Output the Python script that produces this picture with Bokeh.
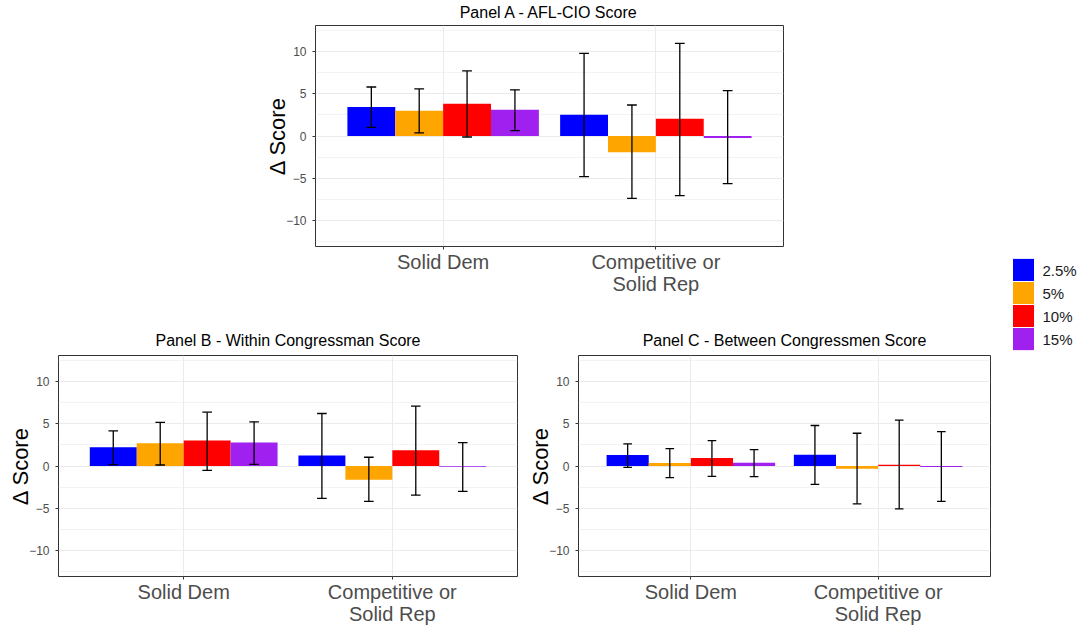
from bokeh.plotting import figure
from bokeh.layouts import row, column
from bokeh.models import FactorRange, Range1d, FixedTicker, Spacer, ColumnDataSource
from bokeh.transform import dodge
from bokeh.core.properties import value
from bokeh.embed import file_html
from bokeh.resources import INLINE

# District types and trimming thresholds
categories = ["Solid Dem", "Competitive or\nSolid Rep"]
thresholds = ["2.5%", "5%", "10%", "15%"]
colors = ["#0000FF", "#FFA500", "#FF0000", "#A020F0"]

# Panel A - AFL-CIO score: estimate and 95% interval per threshold, [Solid Dem, Competitive]
afl_est = [[3.45, 2.54], [3.00, -1.94], [3.85, 2.06], [3.13, -0.25]]
afl_lo = [[1.03, -4.84], [0.36, -7.42], [-0.12, -7.10], [0.63, -5.67]]
afl_hi = [[5.83, 9.84], [5.60, 3.69], [7.74, 11.03], [5.50, 5.40]]

# Panel B - within congressman score
within_est = [[2.23, 1.24], [2.71, -1.63], [3.03, 1.87], [2.79, -0.10]]
within_lo = [[0.16, -3.86], [0.12, -4.22], [-0.52, -3.47], [0.20, -3.03]]
within_hi = [[4.18, 6.25], [5.18, 1.04], [6.41, 7.13], [5.26, 2.79]]

# Panel C - between congressmen score
between_est = [[1.31, 1.35], [0.36, -0.32], [0.96, 0.16], [0.40, -0.12]]
between_lo = [[-0.16, -2.19], [-1.39, -4.50], [-1.24, -5.10], [-1.27, -4.22]]
between_hi = [[2.63, 4.82], [2.07, 3.90], [3.03, 5.46], [1.95, 4.10]]

y_ticks = [-10, -5, 0, 5, 10]
y_minor = [-12.5, -7.5, -2.5, 2.5, 7.5, 12.5]

FONT = "Liberation Sans"
GRID = "#EBEBEB"
DODGE = 0.9
BAR_W = DODGE / len(thresholds)
CAP = 0.023


def panel(title, est, lo, hi, left, frame_w, right, top, bottom, title_gap):
    p = figure(
        x_range=FactorRange(factors=categories, range_padding=0.1,
                            range_padding_units="absolute"),
        y_range=Range1d(-13.15, 13.15),
        frame_width=frame_w, frame_height=221,
        min_border_left=left, min_border_right=right,
        min_border_top=top, min_border_bottom=bottom,
        output_backend="svg", toolbar_location=None, title=title,
    )
    p.title.align = "center"
    p.title.vertical_align = "top"
    p.title.text_font = FONT
    p.title.text_font_style = "normal"
    p.title.text_font_size = "16px"
    p.title.text_color = "#000000"
    p.title.standoff = title_gap

    for i, th in enumerate(thresholds):
        off = (i - (len(thresholds) - 1) / 2) * BAR_W
        src = ColumnDataSource(dict(cat=categories, est=est[i], lo=lo[i], hi=hi[i]))
        xc = dodge("cat", off, range=p.x_range)
        p.vbar(x=xc, top="est", bottom=0, width=BAR_W, source=src,
               fill_color=colors[i], line_color=None)
        p.segment(x0=xc, y0="lo", x1=xc, y1="hi", source=src,
                  line_color="black", line_width=1.3)
        for end in ("lo", "hi"):
            p.segment(x0=dodge("cat", off - CAP, range=p.x_range), y0=end,
                      x1=dodge("cat", off + CAP, range=p.x_range), y1=end,
                      source=src, line_color="black", line_width=1.3)

    ticker = FixedTicker(ticks=y_ticks, minor_ticks=y_minor)
    p.yaxis.ticker = ticker
    p.ygrid.ticker = ticker
    p.yaxis.axis_label = "Δ Score"
    p.yaxis.axis_label_text_font = FONT
    p.yaxis.axis_label_text_font_style = "normal"
    p.yaxis.axis_label_text_font_size = "22px"
    p.yaxis.axis_label_text_color = "#000000"
    p.yaxis.axis_label_standoff = -7

    for ax in (p.xaxis, p.yaxis):
        ax.axis_line_color = None
        ax.major_tick_line_color = "#333333"
        ax.major_tick_out = 3
        ax.major_tick_in = 0
        ax.minor_tick_line_color = None
        ax.major_label_text_font = FONT
        ax.major_label_text_color = "#4D4D4D"
    p.yaxis.major_label_text_font_size = "12px"
    p.yaxis.major_label_standoff = 5
    p.xaxis.major_label_text_font_size = "20px"
    p.xaxis.major_label_text_line_height = 1.0
    p.xaxis.major_label_standoff = 1

    p.xgrid.grid_line_color = GRID
    p.xgrid.grid_line_width = 1.1
    p.ygrid.grid_line_color = GRID
    p.ygrid.grid_line_width = 1.1
    p.ygrid.minor_grid_line_color = GRID
    p.ygrid.minor_grid_line_width = 0.6

    p.outline_line_color = "#333333"
    p.outline_line_width = 1
    p.background_fill_color = "white"
    p.border_fill_color = "white"
    return p


pa = panel("Panel A - AFL-CIO Score", afl_est, afl_lo, afl_hi,
           left=100, frame_w=468, right=10, top=25, bottom=64, title_gap=6)
pb = panel("Panel B - Within Congressman Score", within_est, within_lo, within_hi,
           left=58, frame_w=459, right=3, top=45, bottom=51, title_gap=9)
pc = panel("Panel C - Between Congressmen Score", between_est, between_lo, between_hi,
           left=58, frame_w=412, right=10, top=45, bottom=51, title_gap=9)

# Fill legend for the trimming thresholds
lg = figure(x_range=Range1d(-23, 59), y_range=FactorRange(factors=thresholds[::-1]),
            frame_width=82, frame_height=92,
            min_border_left=0, min_border_right=0,
            min_border_top=258, min_border_bottom=277,
            x_axis_type=None, y_axis_type=None,
            output_backend="svg", toolbar_location=None)
lg.grid.visible = False
lg.outline_line_color = None
lsrc = ColumnDataSource(dict(label=thresholds, color=colors))
lg.rect(x=0, y="label", width=22, width_units="screen", height=1, source=lsrc,
        fill_color="color", line_color="white", line_width=1)
lg.text(x=0, y="label", text="label", source=lsrc, x_offset=19,
        text_baseline="middle", text_align="left",
        text_font=value(FONT), text_font_size="15px", text_color="#1A1A1A")

layout = row(
    column(row(Spacer(width=215, height=310), pa), row(pb, pc)),
    lg,
)

open("out.html", "w").write(file_html(layout, INLINE))
